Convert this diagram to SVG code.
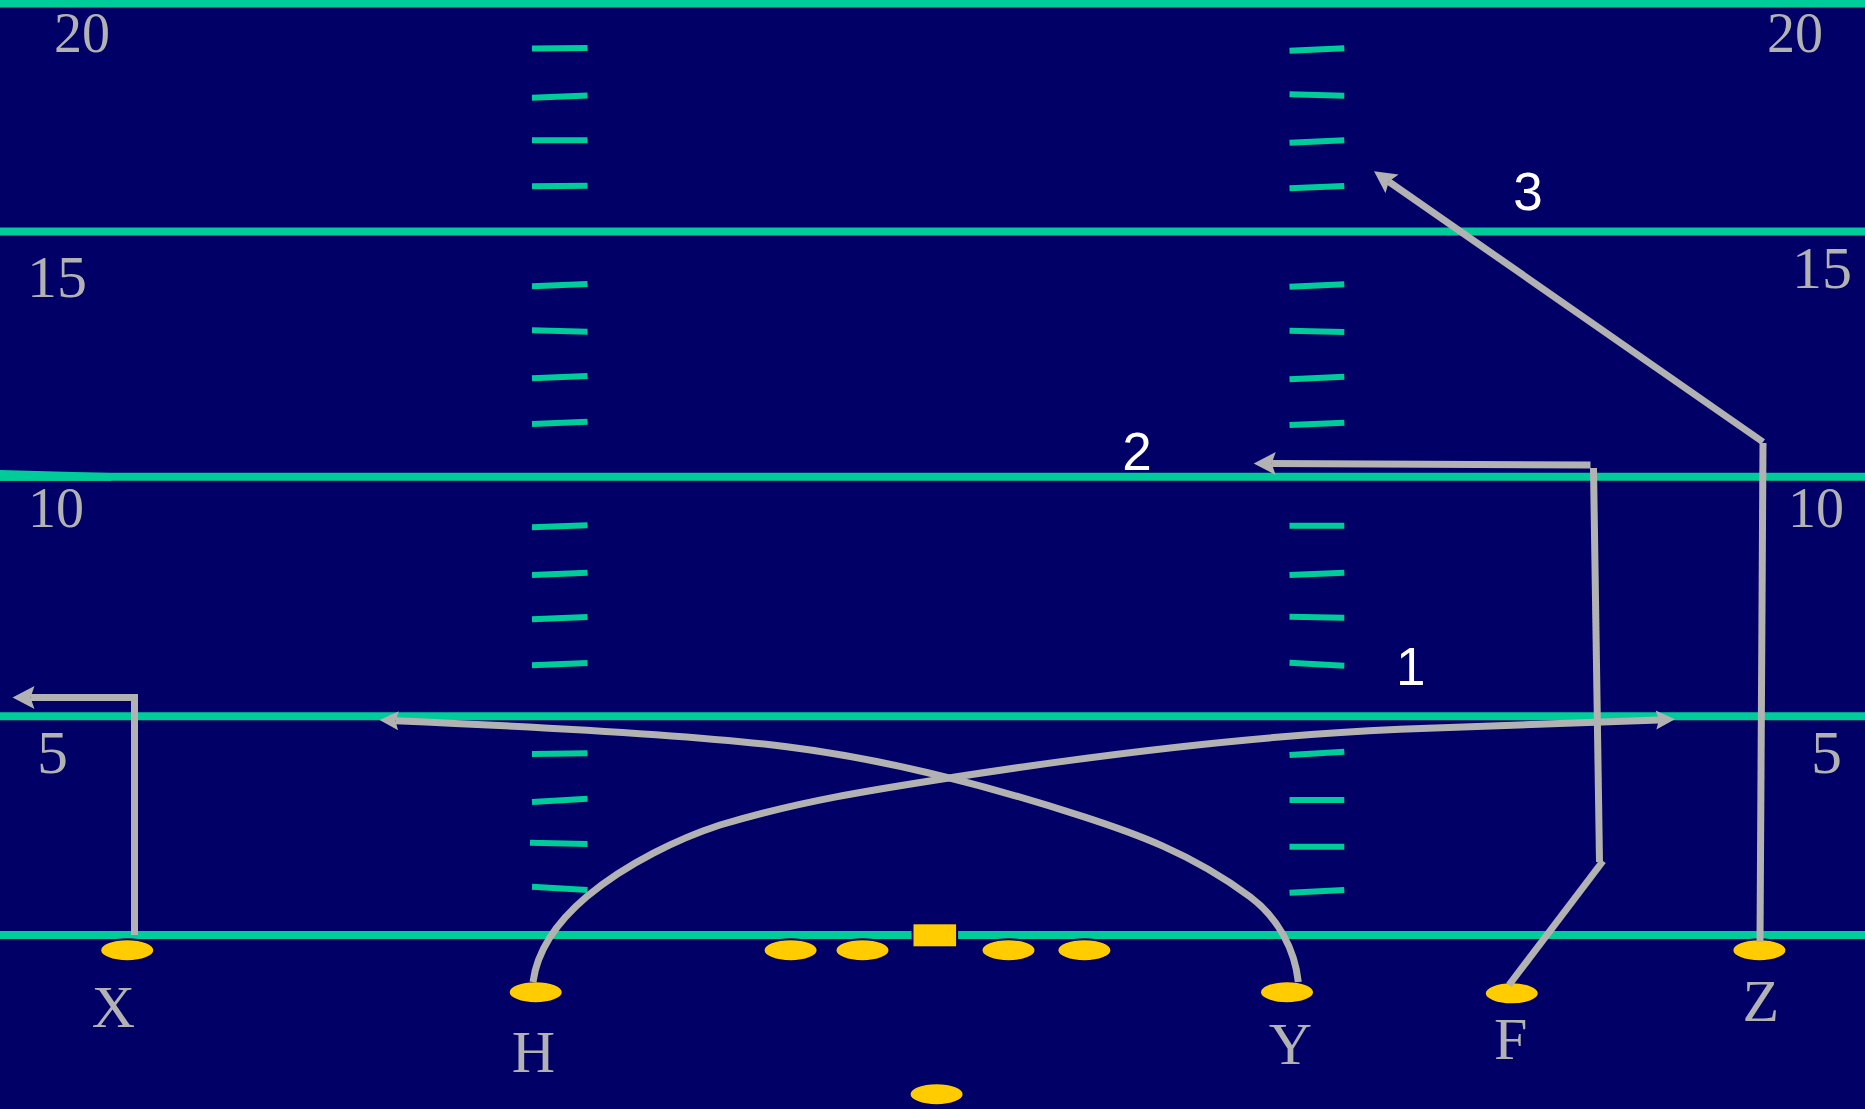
<svg xmlns="http://www.w3.org/2000/svg" width="1865" height="1109" viewBox="0 0 1865 1109">
<style>
.yl{stroke:#00CC99;stroke-width:8;fill:none}
.hash{stroke:#00CC99;stroke-width:6;fill:none}
.num{font-family:"Liberation Serif","Times New Roman",serif;fill:#B2B2B2}
.pos{font-family:"Liberation Serif","Times New Roman",serif;fill:#B2B2B2;font-size:60px;text-anchor:middle}
.rl{font-family:"Liberation Sans",Arial,sans-serif;fill:#FFFFFF;font-size:53px}
.pl{fill:#FFCC00;stroke:#000066;stroke-width:2}
.route{stroke:#B2B2B2;stroke-width:7;fill:none;stroke-linejoin:miter}
.arr{marker-end:url(#ah)}
.arrs{marker-end:url(#ahs)}
</style>
<defs>
<marker id="ah" markerUnits="userSpaceOnUse" markerWidth="30" markerHeight="30" refX="4" refY="0" orient="auto" overflow="visible">
<path d="M22,0 L0,-11.5 L4,0 L0,11.5 Z" fill="#B2B2B2"/>
</marker>
<marker id="ahs" markerUnits="userSpaceOnUse" markerWidth="30" markerHeight="30" refX="3" refY="0" orient="auto" overflow="visible">
<path d="M19,0 L0,-9.5 L3,0 L0,9.5 Z" fill="#B2B2B2"/>
</marker>
</defs>
<rect x="0" y="0" width="1865" height="1109" fill="#000066"/>
<g id="field">
<line class="yl" x1="0" y1="3.5" x2="1865" y2="3.5"/>
<line class="yl" x1="0" y1="231.5" x2="1865" y2="231.5"/>
<line class="yl" x1="0" y1="476.7" x2="1865" y2="476.7"/>
<polygon points="0,470 111,473 111,480.7 0,480.7" fill="#00CC99"/>
<line class="yl" x1="0" y1="716.3" x2="1865" y2="716.3"/>
<line class="yl" x1="0" y1="935" x2="1865" y2="935"/>
</g>
<g id="hashes">
<line class="hash" x1="532" y1="48.5" x2="587.5" y2="48"/>
<line class="hash" x1="532" y1="97.7" x2="587.5" y2="95.5"/>
<line class="hash" x1="532" y1="140.3" x2="587.5" y2="140.3"/>
<line class="hash" x1="532" y1="186.3" x2="587.5" y2="185.8"/>
<line class="hash" x1="532" y1="286.3" x2="587.5" y2="284"/>
<line class="hash" x1="532" y1="330.3" x2="587.5" y2="331.7"/>
<line class="hash" x1="532" y1="378.3" x2="587.5" y2="376"/>
<line class="hash" x1="532" y1="424" x2="587.5" y2="421.7"/>
<line class="hash" x1="532" y1="527.3" x2="587.5" y2="525.2"/>
<line class="hash" x1="532" y1="575" x2="587.5" y2="572.7"/>
<line class="hash" x1="532" y1="619.3" x2="587.5" y2="617"/>
<line class="hash" x1="532" y1="665.3" x2="587.5" y2="663"/>
<line class="hash" x1="532" y1="754" x2="587.5" y2="753.3"/>
<line class="hash" x1="532" y1="802" x2="587.5" y2="798.7"/>
<line class="hash" x1="530" y1="842.7" x2="587.5" y2="844"/>
<line class="hash" x1="532" y1="886.7" x2="587.5" y2="890"/>
<line class="hash" x1="1289.5" y1="50.7" x2="1344.3" y2="48.3"/>
<line class="hash" x1="1289.5" y1="94.3" x2="1344.3" y2="95.7"/>
<line class="hash" x1="1289.5" y1="142.7" x2="1344.3" y2="140.3"/>
<line class="hash" x1="1289.5" y1="188.3" x2="1344.3" y2="186"/>
<line class="hash" x1="1289.5" y1="286.7" x2="1344.3" y2="284.3"/>
<line class="hash" x1="1289.5" y1="330.7" x2="1344.3" y2="332"/>
<line class="hash" x1="1289.5" y1="379.3" x2="1344.3" y2="376.7"/>
<line class="hash" x1="1289.5" y1="425" x2="1344.3" y2="422.7"/>
<line class="hash" x1="1289.5" y1="525.7" x2="1344.3" y2="525.7"/>
<line class="hash" x1="1289.5" y1="575" x2="1344.3" y2="572.7"/>
<line class="hash" x1="1289.5" y1="616.7" x2="1344.3" y2="617.7"/>
<line class="hash" x1="1289.5" y1="662.7" x2="1344.3" y2="665.7"/>
<line class="hash" x1="1289.5" y1="755" x2="1344.3" y2="751.7"/>
<line class="hash" x1="1289.5" y1="800" x2="1344.3" y2="800"/>
<line class="hash" x1="1289.5" y1="846.7" x2="1344.3" y2="846.7"/>
<line class="hash" x1="1289.5" y1="892.7" x2="1344.3" y2="890"/>
</g>
<g id="yard-numbers">
<text class="num" x="54" y="52.3" font-size="56">20</text>
<text class="num" x="1767" y="52.3" font-size="56">20</text>
<text class="num" x="27" y="296.7" font-size="60">15</text>
<text class="num" x="1792" y="288.3" font-size="60">15</text>
<text class="num" x="28" y="526.7" font-size="56">10</text>
<text class="num" x="1788" y="526.7" font-size="56">10</text>
<text class="num" x="37" y="772.7" font-size="62">5</text>
<text class="num" x="1811" y="773" font-size="62">5</text>
</g>
<g id="player-X"><ellipse class="pl" cx="127.2" cy="950.2" rx="27" ry="11"/><text class="pos" x="113.4" y="1027.3">X</text></g>
<g id="player-H"><ellipse class="pl" cx="535.7" cy="992.2" rx="27" ry="11"/><text class="pos" x="533.3" y="1072.3">H</text></g>
<g id="player-LT"><ellipse class="pl" cx="790.6" cy="950.2" rx="27" ry="11"/></g>
<g id="player-LG"><ellipse class="pl" cx="862.5" cy="950.2" rx="27" ry="11"/></g>
<g id="player-C"><rect class="pl" x="912.5" y="923.3" width="44.6" height="24"/></g>
<g id="player-RG"><ellipse class="pl" cx="1008.5" cy="950.2" rx="27" ry="11"/></g>
<g id="player-RT"><ellipse class="pl" cx="1084.4" cy="950.2" rx="27" ry="11"/></g>
<g id="player-QB"><ellipse class="pl" cx="936.6" cy="1094.2" rx="27" ry="11"/></g>
<g id="player-Y"><ellipse class="pl" cx="1287" cy="992.2" rx="27" ry="11"/><text class="pos" x="1290.4" y="1064.3">Y</text></g>
<g id="player-F"><ellipse class="pl" cx="1511.8" cy="993.3" rx="27" ry="11"/><text class="pos" x="1510.8" y="1059">F</text></g>
<g id="player-Z"><ellipse class="pl" cx="1759.4" cy="950.2" rx="27" ry="11"/><text class="pos" x="1760.9" y="1020.7">Z</text></g>
<g id="connectors">
<polyline class="route arr" points="134.5,935 134.5,697.5 30.5,697.5"/>
<path class="route arrs" d="M533,982 C538,945 562,917.6 586.7,896.7 C626.7,863.1 680,838 720,825 C800,801 873.3,789.7 953.3,777.3 C1100,754.5 1250,735.5 1400,729.3 L1659,719.9"/>
<path class="route arrs" d="M1298.3,982 C1295,950 1278,917.5 1250,896.7 C1190,852.4 1133.3,832.9 1083.3,816.7 C983.3,784.2 886.7,759.2 786.7,746.7 C686.7,734.2 495.5,725 395.5,720.7"/>
<line class="route" x1="1509" y1="985" x2="1603" y2="861"/>
<line class="route" x1="1599.5" y1="862" x2="1593.5" y2="468"/>
<line class="route arr" x1="1590.5" y1="465" x2="1271.7" y2="463.5"/>
<line class="route" x1="1760" y1="942" x2="1763" y2="443"/>
<line class="route arr" x1="1763" y1="442" x2="1388.8" y2="181.6"/>
</g>
<g id="route-labels">
<text class="rl" x="1396" y="685">1</text>
<text class="rl" x="1137" y="470" text-anchor="middle">2</text>
<text class="rl" x="1528" y="210" text-anchor="middle">3</text>
</g>
</svg>
